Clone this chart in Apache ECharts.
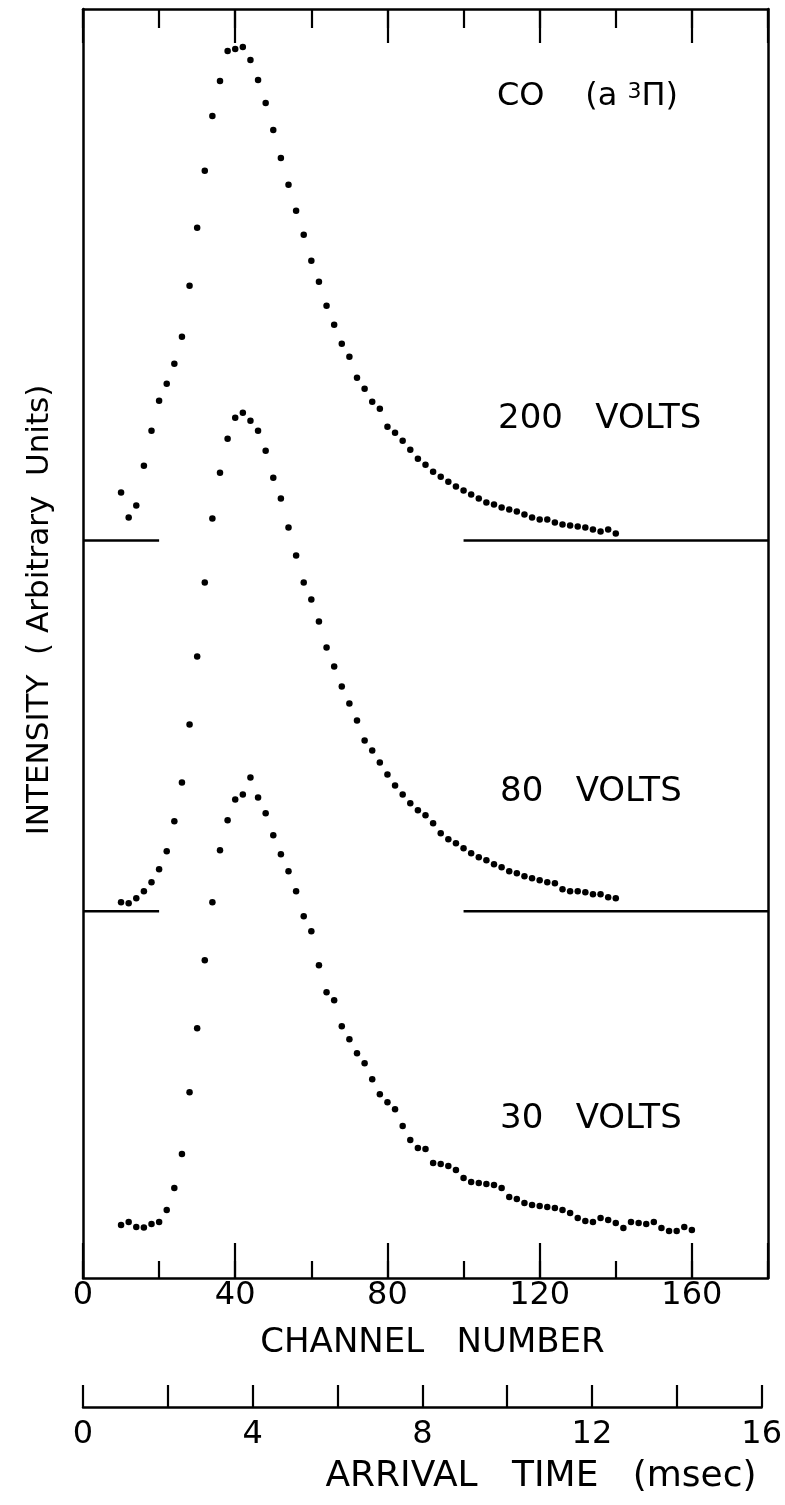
<!DOCTYPE html>
<html>
<head>
<meta charset="utf-8">
<title>CO (a 3Π) arrival time spectra</title>
<script src="https://cdn.jsdelivr.net/npm/echarts@6/dist/echarts.min.js"></script>
<style>
  html, body { margin: 0; padding: 0; background: #fff; }
  #chart { width: 785px; height: 1505px; }
</style>
</head>
<body>
<div id="chart"></div>
<script>
// channel numbers of the measured points (every second channel)
const channels = [10, 12, 14, 16, 18, 20, 22, 24, 26, 28, 30, 32, 34, 36, 38, 40, 42, 44, 46, 48,
  50, 52, 54, 56, 58, 60, 62, 64, 66, 68, 70, 72, 74, 76, 78, 80, 82, 84, 86, 88,
  90, 92, 94, 96, 98, 100, 102, 104, 106, 108, 110, 112, 114, 116, 118, 120, 122, 124, 126, 128,
  130, 132, 134, 136, 138, 140, 142, 144, 146, 148, 150, 152, 154, 156, 158, 160];

// intensity above each trace's own baseline (arbitrary units)
const volts200 = [4.8, 2.3, 3.5, 7.5, 11.0, 14.0, 15.7, 17.7, 20.4, 25.5, 31.3, 37.0, 42.5, 46.0, 49.0, 49.2, 49.4, 48.1, 46.1, 43.8,
  41.1, 38.3, 35.6, 33.0, 30.6, 28.0, 25.9, 23.5, 21.6, 19.7, 18.4, 16.3, 15.2, 13.9, 13.2, 11.4, 10.8, 10.0, 9.1, 8.2,
  7.6, 6.9, 6.4, 5.9, 5.4, 5.0, 4.6, 4.2, 3.8, 3.6, 3.3, 3.1, 2.9, 2.6, 2.3, 2.1, 2.1, 1.8, 1.6, 1.5,
  1.4, 1.3, 1.1, 0.9, 1.1, 0.7];
const volts80 = [0.9, 0.8, 1.3, 2.0, 2.9, 4.2, 6.0, 9.0, 12.9, 18.7, 25.5, 32.9, 39.3, 43.9, 47.3, 49.4, 49.9, 49.1, 48.1, 46.1,
  43.4, 41.3, 38.4, 35.6, 32.9, 31.2, 29.0, 26.4, 24.5, 22.5, 20.8, 19.1, 17.1, 16.1, 14.9, 13.7, 12.6, 11.7, 10.8, 10.1,
  9.6, 8.8, 7.8, 7.2, 6.8, 6.3, 5.8, 5.4, 5.1, 4.7, 4.4, 4.0, 3.8, 3.5, 3.3, 3.1, 2.9, 2.8, 2.2, 2.0,
  2.0, 1.9, 1.7, 1.7, 1.4, 1.3];
const volts30 = [0.5, 0.8, 0.3, 0.25, 0.6, 0.8, 2.0, 4.2, 7.6, 13.8, 20.2, 27.0, 32.8, 38.0, 41.0, 43.1, 43.6, 45.3, 43.3, 41.7,
  39.5, 37.6, 35.9, 33.9, 31.4, 29.9, 26.5, 23.8, 23.0, 20.4, 19.1, 17.7, 16.7, 15.1, 13.6, 12.8, 12.1, 10.4, 9.0, 8.2,
  8.1, 6.7, 6.6, 6.4, 6.0, 5.2, 4.8, 4.7, 4.6, 4.5, 4.2, 3.3, 3.1, 2.7, 2.5, 2.4, 2.3, 2.2, 2.0, 1.7,
  1.2, 0.9, 0.8, 1.2, 1.0, 0.7, 0.2, 0.8, 0.7, 0.6, 0.8, 0.2, -0.1, -0.1, 0.3, 0.0];

// vertical offsets of the stacked traces
const base200 = 73.8;
const base80 = 36.7;
const base30 = 4.8;
// channel ranges where the zero lines are drawn
const baselineRanges = [[0, 20], [100, 180]];

// axis ticks
const channelLabels = [0, 40, 80, 120, 160];
const timeLabels = [0, 4, 8, 12, 16];

const FONT = '"DejaVu Sans", sans-serif';
const INK = '#000';

function trace(values, base) {
  return values.map((v, i) => [channels[i], base + v]);
}

function dots(name, values, base) {
  return {
    name: name,
    type: 'scatter',
    xAxisIndex: 0,
    yAxisIndex: 0,
    symbol: 'circle',
    symbolSize: 6.5,
    itemStyle: { color: INK, opacity: 1 },
    data: trace(values, base),
  };
}

function zeroLines(base) {
  return baselineRanges.map(r => ({
    type: 'line',
    xAxisIndex: 0,
    yAxisIndex: 0,
    symbol: 'none',
    lineStyle: { color: INK, width: 2.5 },
    data: [[r[0], base], [r[1], base]],
  }));
}

const frameLine = { show: true, onZero: false, lineStyle: { color: INK, width: 2.5 } };
const hiddenLine = { show: false, onZero: false };

function channelAxis(position, interval, tickLen, showLine, extra) {
  return Object.assign({
    type: 'value',
    gridIndex: 0,
    position: position,
    min: 0,
    max: 180,
    interval: interval,
    axisLine: showLine ? frameLine : hiddenLine,
    axisTick: { show: true, inside: true, length: tickLen, lineStyle: { color: INK, width: 2.2 } },
    axisLabel: { show: false },
    splitLine: { show: false },
  }, extra || {});
}

const myChart = echarts.init(document.getElementById('chart'), null, { renderer: 'canvas' });

myChart.setOption({
  animation: false,
  backgroundColor: '#fff',
  grid: [
    { left: 83, right: 17, top: 9, bottom: 227 },
    { left: 83, right: 18, top: 1380, height: 27 },
  ],
  xAxis: [
    channelAxis('bottom', 20, 17, true, {
      axisLabel: {
        show: true,
        margin: 2,
        color: INK,
        fontFamily: FONT,
        fontSize: 32,
        formatter: v => (channelLabels.indexOf(v) >= 0 ? String(v) : ''),
      },
      name: 'CHANNEL   NUMBER',
      nameLocation: 'middle',
      nameGap: 48,
      nameTextStyle: { color: INK, fontFamily: FONT, fontSize: 34, padding: [0, 0, 0, 14] },
    }),
    channelAxis('bottom', 40, 35, false),
    channelAxis('top', 20, 19, true),
    channelAxis('top', 40, 34, false),
    {
      type: 'value',
      gridIndex: 1,
      position: 'bottom',
      min: 0,
      max: 16,
      interval: 2,
      axisLine: frameLine,
      axisTick: { show: true, inside: true, length: 22, lineStyle: { color: INK, width: 2.2 } },
      axisLabel: {
        show: true,
        margin: 12,
        color: INK,
        fontFamily: FONT,
        fontSize: 32,
        formatter: v => (timeLabels.indexOf(v) >= 0 ? String(v) : ''),
      },
      splitLine: { show: false },
    },
  ],
  yAxis: [
    {
      type: 'value', gridIndex: 0, position: 'left', min: 0, max: 127,
      axisLine: frameLine, axisTick: { show: false }, axisLabel: { show: false }, splitLine: { show: false },
    },
    {
      type: 'value', gridIndex: 0, position: 'right', min: 0, max: 127,
      axisLine: frameLine, axisTick: { show: false }, axisLabel: { show: false }, splitLine: { show: false },
    },
    { type: 'value', gridIndex: 1, show: false, min: 0, max: 1 },
  ],
  series: [
    dots('200 VOLTS', volts200, base200),
    dots('80 VOLTS', volts80, base80),
    dots('30 VOLTS', volts30, base30),
    ...zeroLines(base200),
    ...zeroLines(base80),
  ],
  graphic: [
    {
      type: 'text', x: 497, y: 97,
      style: {
        text: '{t|CO    (a }{sup|3}{t|Π)}',
        fill: INK, align: 'left', verticalAlign: 'middle',
        rich: {
          t: { fontFamily: FONT, fontSize: 32, fill: INK },
          sup: { fontFamily: FONT, fontSize: 22, fill: INK, verticalAlign: 'top' },
        },
      },
    },
    {
      type: 'text', x: 498, y: 419,
      style: { text: '200   VOLTS', fill: INK, fontFamily: FONT, fontSize: 34, align: 'left', verticalAlign: 'middle' },
    },
    {
      type: 'text', x: 500, y: 792,
      style: { text: '80   VOLTS', fill: INK, fontFamily: FONT, fontSize: 34, align: 'left', verticalAlign: 'middle' },
    },
    {
      type: 'text', x: 500, y: 1119,
      style: { text: '30   VOLTS', fill: INK, fontFamily: FONT, fontSize: 34, align: 'left', verticalAlign: 'middle' },
    },
    {
      type: 'text', x: 40, y: 610, rotation: Math.PI / 2,
      style: {
        text: 'INTENSITY  ( Arbitrary  Units)',
        fill: INK, fontFamily: FONT, fontSize: 31, align: 'center', verticalAlign: 'middle',
      },
    },
    {
      type: 'text', x: 541, y: 1477,
      style: { text: 'ARRIVAL   TIME   (msec)', fill: INK, fontFamily: FONT, fontSize: 36, align: 'center', verticalAlign: 'middle' },
    },
  ],
});
</script>
</body>
</html>
